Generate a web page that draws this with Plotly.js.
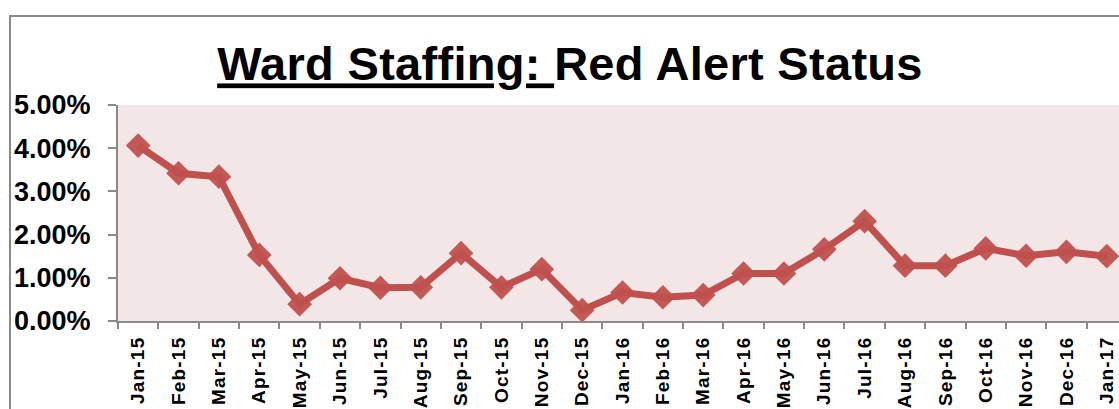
<!DOCTYPE html>
<html>
<head>
<meta charset="utf-8">
<script src="https://cdn.plot.ly/plotly-3.0.1.min.js"></script>
<style>
  html, body { margin: 0; padding: 0; width: 1119px; height: 409px; overflow: hidden; background: #fff; }
  #frame { position: absolute; left: 9px; top: 15px; width: 1200px; height: 500px;
           border-left: 2px solid #8a8a8a; border-top: 2px solid #8a8a8a; pointer-events: none; z-index: 2; }
  #chart { position: absolute; left: 0; top: 0; }
  .gtitle { letter-spacing: 0.3px; }
  .xtick text { letter-spacing: 1.2px; }
</style>
</head>
<body>
<div id="chart"></div>
<div id="frame"></div>
<script>
const months = ["Jan-15","Feb-15","Mar-15","Apr-15","May-15","Jun-15","Jul-15","Aug-15","Sep-15","Oct-15","Nov-15","Dec-15",
                "Jan-16","Feb-16","Mar-16","Apr-16","May-16","Jun-16","Jul-16","Aug-16","Sep-16","Oct-16","Nov-16","Dec-16",
                "Jan-17"];
const redAlertRate = [0.0406,0.0342,0.0334,0.0153,0.0039,0.0099,0.0077,0.0078,0.0157,0.0078,0.0120,0.0025,
                      0.0066,0.0055,0.0060,0.0110,0.0110,0.0166,0.0231,0.0128,0.0128,0.0168,0.0151,0.0160,
                      0.0150];
const yTickValues = [0, 0.01, 0.02, 0.03, 0.04, 0.05];
const chartTitle = "<u>Ward Staffing: </u>Red Alert Status";

const W = 1140, H = 409;
const trace = {
  x: months,
  y: redAlertRate,
  type: "scatter",
  mode: "lines+markers",
  line: { color: "#C0504D", width: 7 },
  marker: { symbol: "diamond", size: 19, color: "#C0504D", opacity: 0.95 },
  hoverinfo: "x+y"
};
const layout = {
  width: W, height: H,
  margin: { l: 118, r: 13, t: 105, b: 88 },
  paper_bgcolor: "#ffffff",
  plot_bgcolor: "#F2E7E6",
  showlegend: false,
  title: {
    text: chartTitle,
    x: 570 / W, xref: "container", xanchor: "center",
    y: 1 - 64 / H, yref: "container", yanchor: "middle",
    font: { family: "Liberation Sans, Arial, sans-serif", size: 47, color: "#000", weight: "bold" }
  },
  xaxis: {
    type: "category",
    range: [-0.5, months.length - 0.5],
    tickangle: -90,
    tickson: "boundaries",
    ticks: "outside", ticklen: 6, tickwidth: 2, tickcolor: "#8a8a8a",
    showline: true, linecolor: "#8a8a8a", linewidth: 2,
    showgrid: false, zeroline: false,
    ticklabelstandoff: 6,
    tickfont: { family: "Liberation Sans, Arial, sans-serif", size: 19, color: "#000", weight: "bold" }
  },
  yaxis: {
    range: [0, 0.05],
    tickvals: yTickValues,
    tickformat: ".2%",
    ticks: "outside", ticklen: 8, tickwidth: 2, tickcolor: "#8a8a8a",
    showline: true, linecolor: "#8a8a8a", linewidth: 2,
    showgrid: false, zeroline: false,
    ticklabelstandoff: 12,
    tickfont: { family: "Liberation Sans, Arial, sans-serif", size: 27, color: "#000", weight: "bold" }
  }
};
Plotly.newPlot("chart", [trace], layout, { displayModeBar: false, staticPlot: true });
</script>
</body>
</html>
